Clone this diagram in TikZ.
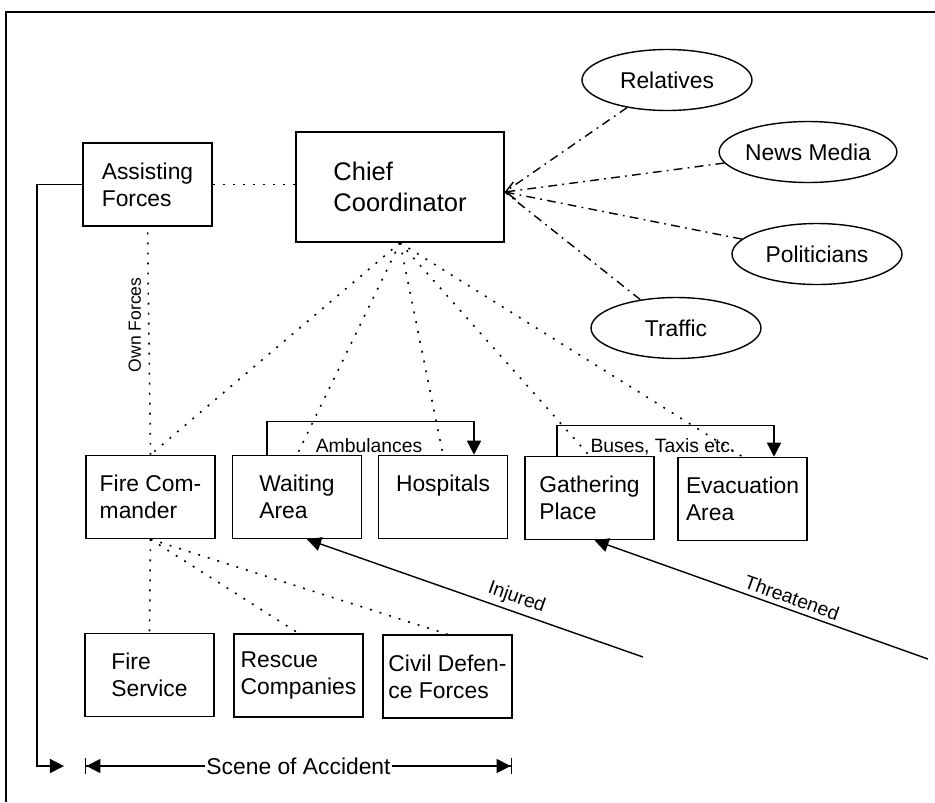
\documentclass[tikz,border=0pt]{standalone}
\usepackage{fontspec}
\setmainfont{Liberation Sans}
\usetikzlibrary{arrows.meta,shapes.geometric}

\begin{document}
\begin{tikzpicture}[
  x=0.02cm, y=-0.02cm,
  box/.style={rectangle, draw, line width=0.9pt, minimum width=2.58cm,
    minimum height=1.66cm, inner sep=2pt, align=left,
    font=\fontsize{13}{15.5}\selectfont},
  party/.style={ellipse, draw, line width=0.8pt, minimum width=3.4cm,
    minimum height=1.22cm, inner sep=0pt, font=\fontsize{13}{15.5}\selectfont},
  dots/.style={line width=0.9pt, dash pattern=on 1.1pt off 4.6pt},
  dashdot/.style={line width=0.8pt, dash pattern=on 5pt off 3pt on 1pt off 3pt},
  link/.style={line width=0.8pt},
  tri/.style={-{Triangle[length=8pt,width=8pt]}},
  lbl/.style={font=\fontsize{11}{13}\selectfont, inner sep=1pt}
]
\useasboundingbox (0,0) rectangle (935,802);
\draw[line width=1.4pt] (935,12) -| (6,802);

\node[box] (assist) at (147.5,184.5) {Assisting\\Forces};
\node[box, minimum width=4.16cm, minimum height=2.2cm,
  font=\fontsize{14.5}{17.5}\selectfont] (chief) at (400,187) {Chief\\Coordinator};

\node[party] (relatives) at (667,80) {Relatives};
\node[party] (news) at (808,152) {News Media};
\node[party] (politicians) at (817,254) {Politicians};
\node[party] (traffic) at (676,328) {Traffic};

\node[box] (firecmd) at (150.5,497) {Fire Com-\\mander};
\node[box] (waiting) at (297,497) {Waiting\\Area};
\node[box] (hospitals) at (443,497) {Hospitals\\\mbox{}};
\node[box] (gathering) at (589.5,498) {Gathering\\Place};
\node[box] (evac) at (742.5,499) {Evacuation\\Area};

\node[box] (fireserv) at (149.5,675) {Fire\\Service};
\node[box] (rescue) at (298.5,675.5) {Rescue\\Companies};
\node[box] (civil) at (447.5,676.5) {Civil Defen-\\ce Forces};

\coordinate (hub) at ([yshift=-0.1cm]chief.east);
\draw[dashdot] (relatives) -- (hub);
\draw[dashdot, -{Straight Barb[length=5pt,width=10pt]}] (news) -- (hub);
\draw[dashdot] (politicians) -- (hub);
\draw[dashdot] (traffic) -- (hub);

\draw[dots] (assist.east) -- (assist.east -| chief.west);
\draw[dots] (firecmd.north) -- node[lbl, rotate=90, anchor=south, pos=0.57,
  font=\fontsize{10}{12}\selectfont, inner sep=4pt] {Own Forces} (assist.south);
\foreach \dest in {firecmd, waiting, hospitals, gathering, evac}
  \draw[dots] (chief.south) -- (\dest.north);
\foreach \dest in {fireserv, rescue, civil}
  \draw[dots] (firecmd.south) -- (\dest.north);

\draw[link, tri] ([xshift=-0.6cm]waiting.north) -- ++(0,0.66cm)
  -| ([xshift=0.62cm]hospitals.north);
\node[lbl] (amb) at (369,446) {Ambulances};
\draw[link, tri] ([xshift=-0.65cm]gathering.north) -- ++(0,0.61cm)
  -| ([xshift=0.63cm]evac.north);
\node[lbl] (buses) at (663,447) {Buses, Taxis etc.};

\coordinate (injtail) at (643,657);
\draw[link, tri] (injtail) -- node[lbl, sloped, above, pos=0.39, inner sep=2.5pt]
  {Injured} ([xshift=0.2cm]waiting.south);
\coordinate (thrtail) at (928,659);
\draw[link, tri] (thrtail) -- node[lbl, sloped, above, pos=0.42, inner sep=2.5pt]
  {Threatened} ([xshift=0.1cm]gathering.south);

\coordinate (loopcorner) at (37,766);
\coordinate (loopend) at (64,766);
\draw[link, tri] (assist.west) -| (loopcorner) -- (loopend);

\coordinate (sceneL) at (85,766);
\coordinate (sceneR) at (512,766);
\draw[link, {Bar[width=9pt]Triangle[length=8pt,width=8pt]}-{Triangle[length=8pt,width=8pt]Bar[width=9pt]}]
  (sceneL) -- node[fill=white, inner sep=1pt, font=\fontsize{13}{15}\selectfont]
  {Scene of Accident} (sceneR);
\end{tikzpicture}
\end{document}
